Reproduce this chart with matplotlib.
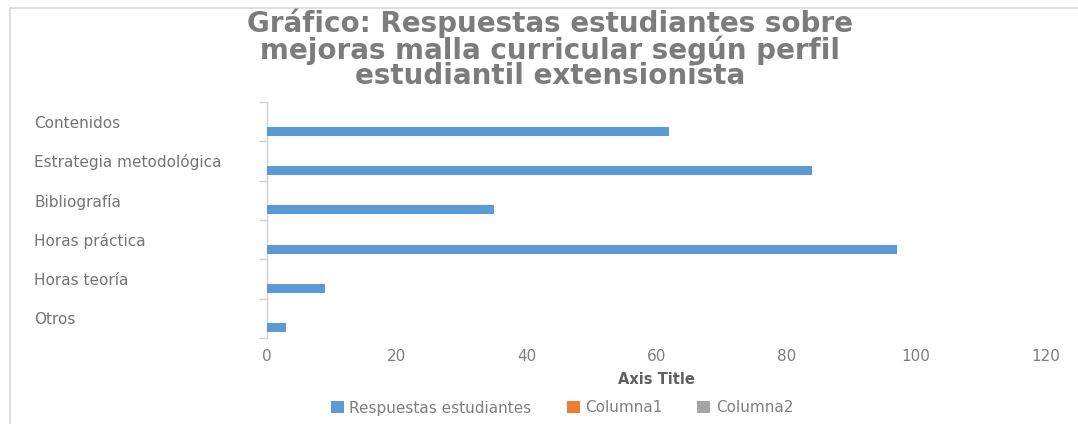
import matplotlib
matplotlib.use("Agg")
import matplotlib.pyplot as plt
from matplotlib.patches import Patch
from matplotlib.lines import Line2D
import numpy as np

# Categories listed bottom to top (as the bar chart stacks them)
categories = ["Otros", "Horas teoría", "Horas práctica", "Bibliografía",
              "Estrategia metodológica", "Contenidos"]
respuestas = [3, 9, 97, 35, 84, 62]
series_names = ["Respuestas estudiantes", "Columna1", "Columna2"]
series_colors = ["#5b9bd5", "#ed7d31", "#a5a5a5"]
x_ticks = [0, 20, 40, 60, 80, 100, 120]

title = "Gráfico: Respuestas estudiantes sobre\nmejoras malla curricular según perfil\nestudiantil extensionista"

W, H = 1078, 424
fig = plt.figure(figsize=(W / 100, H / 100), dpi=100)
fig.patch.set_facecolor("white")

# chart-area frame (left and top edges)
frame_color = "#d9d9d9"
fig.add_artist(Line2D([10 / W, 10 / W], [0, 1 - 8 / H], transform=fig.transFigure,
                      color=frame_color, lw=1.2))
fig.add_artist(Line2D([10 / W, 1], [1 - 8 / H, 1 - 8 / H], transform=fig.transFigure,
                      color=frame_color, lw=1.2))

left, right = 267 / W, 1046 / W
bottom, top = 1 - 338 / H, 1 - 102 / H
ax = fig.add_axes([left, bottom, right - left, top - bottom])

y = np.arange(len(categories))
bar_h = 0.23
ax.barh(y - bar_h * 1.05, respuestas, height=bar_h, color=series_colors[0], zorder=3)

ax.set_xlim(0, 120)
ax.set_ylim(-0.5, len(categories) - 0.5)

text_gray = "#7f7f7f"
for s in ["top", "right", "bottom"]:
    ax.spines[s].set_visible(False)
ax.spines["left"].set_color("#d0d0d0")
ax.spines["left"].set_linewidth(1.0)

ax.set_xticks(x_ticks)
ax.set_xticklabels([str(t) for t in x_ticks], fontsize=11, color=text_gray,
                   family="DejaVu Sans")
ax.tick_params(axis="x", length=0, pad=8)

ax.set_yticks(y)
ax.set_yticks(np.arange(-0.5, len(categories)), minor=True)
ax.set_yticklabels(categories, fontsize=11, color="#747474", family="DejaVu Sans",
                   ha="left")
ax.tick_params(axis="y", which="major", length=0, pad=(267 - 34) * 0.72)
ax.tick_params(axis="y", which="minor", length=6, color="#d0d0d0", width=1.0)

ax.set_xlabel("Axis Title", fontsize=10.5, fontweight="bold", color="#5f5f5f",
              family="DejaVu Sans", labelpad=6)

fig.text(0.51, 1 - 8 / H, title, ha="center", va="top", fontsize=20,
         fontweight="bold", color="#7c7c7c", family="DejaVu Sans",
         linespacing=0.9)

handles = [Patch(facecolor=c, edgecolor="none") for c in series_colors]
fig.legend(handles, series_names, loc="center", bbox_to_anchor=(562 / W, 1 - 408 / H),
           ncol=3, frameon=False, labelcolor=text_gray,
           handlelength=0.85, handleheight=0.85, handletextpad=0.35, columnspacing=2.3,
           prop={"family": "DejaVu Sans", "size": 11})

fig.savefig("out.png", dpi=100, facecolor="white")
